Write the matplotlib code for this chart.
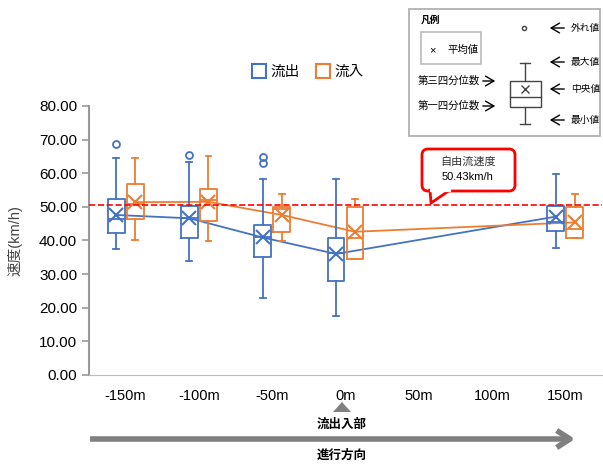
import matplotlib
matplotlib.use('Agg')
import matplotlib.pyplot as plt
from matplotlib.patches import FancyBboxPatch, Polygon, Rectangle
from matplotlib.lines import Line2D

plt.rcParams['font.family'] = ['Liberation Sans', 'Noto Sans CJK JP', 'DejaVu Sans']

# category axis and which categories carry data
categories = ['-150m', '-100m', '-50m', '0m', '50m', '100m', '150m']
data_idx = [0, 1, 2, 3, 6]

# 流出 (outflow) speed stats, km/h
out_min = [37.4, 33.9, 22.8, 17.6, 37.9]
out_q1 = [42.1, 40.6, 35.2, 28.0, 42.9]
out_med = [46.3, 46.6, 40.9, 36.2, 45.6]
out_mean = [47.6, 46.6, 40.9, 36.0, 47.1]
out_q3 = [52.3, 50.3, 44.6, 40.6, 50.3]
out_max = [64.6, 63.3, 58.2, 58.2, 59.8]
out_fliers = [[68.7], [65.4], [63.0, 64.9], [], []]

# 流入 (inflow) speed stats, km/h
in_min = [40.1, 39.9, 39.9, 34.4, 40.6]
in_q1 = [46.3, 45.8, 42.4, 34.4, 40.6]
in_med = [51.0, 52.0, 49.3, 40.6, 43.3]
in_mean = [51.4, 51.5, 47.6, 42.6, 45.4]
in_q3 = [56.8, 55.3, 50.1, 50.1, 50.1]
in_max = [64.6, 65.2, 53.8, 52.4, 53.8]
in_fliers = [[], [], [], [], []]

free_flow = 50.43

BLUE = '#4472C4'
ORANGE = '#ED7D31'


def make_stats(lo, q1, med, mean, q3, hi, fliers):
    return [dict(whislo=a, q1=b, med=c, mean=d, q3=e, whishi=f, fliers=g)
            for a, b, c, d, e, f, g in zip(lo, q1, med, mean, q3, hi, fliers)]


def draw_series(ax, stats, pos, color):
    ax.bxp(stats, positions=pos, widths=0.23, showmeans=True, capwidths=0.08,
           boxprops=dict(color=color, lw=1.3),
           whiskerprops=dict(color=color, lw=1.3),
           capprops=dict(color=color, lw=1.3),
           medianprops=dict(color=color, lw=1.3),
           meanprops=dict(marker='x', markeredgecolor=color, markersize=10,
                          markeredgewidth=1.5),
           flierprops=dict(marker='o', markerfacecolor='none',
                           markeredgecolor=color, markersize=5,
                           markeredgewidth=1.3),
           manage_ticks=False)


fig = plt.figure(figsize=(6.03, 4.66), dpi=100)
ax = fig.add_axes([89 / 603, 91 / 466, 513 / 603, 269 / 466])

off = 0.13
pos_out = [i - off for i in data_idx]
pos_in = [i + off for i in data_idx]

ax.plot(pos_out, out_mean, color=BLUE, lw=1.3, zorder=1)
ax.plot(pos_in, in_mean, color=ORANGE, lw=1.3, zorder=1)
draw_series(ax, make_stats(out_min, out_q1, out_med, out_mean, out_q3, out_max, out_fliers),
            pos_out, BLUE)
draw_series(ax, make_stats(in_min, in_q1, in_med, in_mean, in_q3, in_max, in_fliers),
            pos_in, ORANGE)

ax.axhline(free_flow, color='red', ls='--', lw=1.2, zorder=3)

ax.set_xlim(-0.5, 6.5)
ax.set_ylim(0, 80)
ax.set_xticks(range(len(categories)))
ax.set_xticklabels(categories, fontsize=10.5)
ax.set_yticks(range(0, 81, 10))
ax.set_yticklabels([f'{v:.2f}' for v in range(0, 81, 10)], fontsize=11)
ax.tick_params(axis='x', length=0, pad=10)
ax.tick_params(axis='y', length=5, color='#999999', width=1.2)
for s in ['top', 'right']:
    ax.spines[s].set_visible(False)
ax.spines['left'].set_color('#999999')
ax.spines['left'].set_linewidth(1.5)
ax.spines['bottom'].set_color('#bbbbbb')
ax.set_ylabel('速度(km/h)', fontsize=10.5, color='#444444', labelpad=12)

handles = [Line2D([], [], marker='s', ls='none', markerfacecolor='white',
                  markeredgecolor=c, markersize=10, markeredgewidth=1.5)
           for c in (BLUE, ORANGE)]
fig.legend(handles, ['流出', '流入'], loc='center', bbox_to_anchor=(306 / 603, 1 - 72 / 466),
           ncol=2, frameon=False, fontsize=10.5, handletextpad=0.1, columnspacing=0.9,
           handlelength=1.4)

# overlay in pixel coordinates for annotations
ov = fig.add_axes([0, 0, 1, 1])
ov.set_xlim(0, 603)
ov.set_ylim(466, 0)
ov.axis('off')

arrow = dict(arrowstyle='->,head_length=0.6,head_width=0.35', lw=1, color='black')

# legend explanation panel
ov.add_patch(Rectangle((409, 9), 191, 127, fill=False, ec='#aaaaaa', lw=1.2))
ov.text(421, 20, '凡例', fontsize=7, fontweight='bold', va='center')
ov.add_patch(Rectangle((421, 32), 60, 32, fill=False, ec='#bbbbbb', lw=1.2))
ov.text(432, 50, '×', fontsize=8, ha='center', va='center')
ov.text(447, 50, '平均値', fontsize=7.5, va='center')
ov.text(418, 81, '第三四分位数', fontsize=7.5, va='center')
ov.text(418, 106, '第一四分位数', fontsize=7.5, va='center')
for y in (81, 106):
    ov.annotate('', xy=(498, y), xytext=(480, y), arrowprops=arrow)
ov.plot([525, 525], [63, 81], color='#444444', lw=1)
ov.plot([525, 525], [107, 124], color='#444444', lw=1)
ov.plot([520, 530], [63, 63], color='#444444', lw=1)
ov.plot([520, 530], [124, 124], color='#444444', lw=1)
ov.add_patch(Rectangle((510, 81), 31, 26, fill=False, ec='#444444', lw=1))
ov.plot([510, 541], [97, 97], color='#444444', lw=1)
ov.plot([525], [89], marker='x', color='#444444', markersize=6)
ov.plot([524], [28], marker='o', markerfacecolor='none', markeredgecolor='#444444', markersize=3)
for y, lab in [(28, '外れ値'), (62, '最大値'), (89, '中央値'), (120, '最小値')]:
    ov.annotate('', xy=(547, y), xytext=(567, y), arrowprops=arrow)
    ov.text(571, y, lab, fontsize=7, va='center')

# free-flow speed callout
ov.add_patch(FancyBboxPatch((422, 149), 93, 42, boxstyle='round,pad=0,rounding_size=6',
                            fc='white', ec='red', lw=2, zorder=5))
ov.add_patch(Polygon([(430, 190), (431, 203), (450, 190)], closed=True,
                     fc='white', ec='red', lw=2, zorder=6))
ov.plot([431.5, 448.5], [190, 190], color='white', lw=3, zorder=7)
ov.text(468, 162, '自由流速度', fontsize=8, ha='center', va='center', color='#333333', zorder=8)
ov.text(468, 177, f'{free_flow}km/h', fontsize=8, ha='center', va='center', zorder=8)

# bottom direction marks
ov.add_patch(Polygon([(333, 412), (342, 402), (351, 412)], closed=True,
                     fc='#808080', ec='none'))
ov.text(342, 425, '流出入部', fontsize=9, ha='center', va='center', fontweight='bold')
ov.plot([90, 566], [439, 439], color='#808080', lw=4, solid_capstyle='butt')
ov.plot([559, 570, 559], [432, 439, 446], color='#808080', lw=4)
ov.text(342, 456, '進行方向', fontsize=9, ha='center', va='center', fontweight='bold')

fig.savefig('out.png', dpi=100)
